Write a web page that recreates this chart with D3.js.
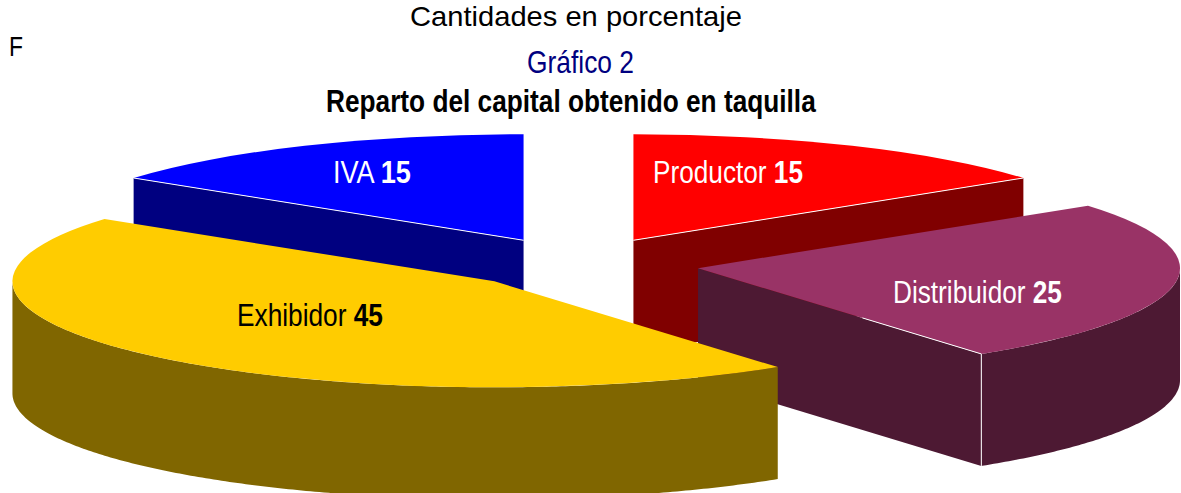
<!DOCTYPE html>
<html>
<head>
<style>
  body{
    margin: 0;
    background: #fff;
  }
  text{
    font-family: 'Liberation Sans', Arial, sans-serif;
  }
</style>
</head>
<body>
  <svg id='svgVis'></svg>

<script src="https://d3js.org/d3.v7.min.js"></script>
<script>

var categories = ["Productor", "Distribuidor", "Exhibidor", "IVA"];
var values = [15, 25, 45, 15];
var topColors = ["#ff0000", "#993366", "#ffcc00", "#0000ff"];
var sideColors = ["#800000", "#4d1933", "#806600", "#000080"];
var labelColors = ["#fff", "#fff", "#000", "#fff"];

var width = 1181, height = 493;

var cx = 578.5, cy = 264,      // centre of the pie before exploding
    rx = 482, ry = 106,        // ellipse of the tilted pie
    depth = 112,
    explode = 121;

var tilt = ry / rx;

var svg = d3.select("#svgVis")
    .attr("width", width)
    .attr("height", height)
    .style("display", "block");

var slices = d3.pie().sort(null).startAngle(0).endAngle(2 * Math.PI)(values);

var nudgeX = [0, 0, 1.5, 0], nudgeY = [0, 0, -1.5, 0];

slices.forEach(function(d, i) {
  var mid = (d.startAngle + d.endAngle) / 2;
  d.name = categories[i];
  d.top = topColors[i];
  d.side = sideColors[i];
  d.ax = cx + explode * Math.sin(mid) + nudgeX[i];
  d.ay = cy - explode * Math.cos(mid) * tilt + nudgeY[i];
  d.edgeStart = [0, 0.58, null, 0][i];   // how much of the cut edge has the white line
});

// point on the rim of a slice
function rim(d, a, f) {
  f = f === undefined ? 1 : f;
  return [d.ax + f * rx * Math.sin(a), d.ay - f * ry * Math.cos(a)];
}

var arc = d3.arc().innerRadius(0).outerRadius(rx);

var wallArea = d3.area()
    .x(function(p) { return p[0]; })
    .y0(function(p) { return p[1]; })
    .y1(function(p) { return p[1] + depth; });

// the cut edge that faces the viewer, if any
function cutAngle(d) {
  if (Math.sin(d.endAngle) > 0.001) return d.endAngle;
  if (Math.sin(d.startAngle) < -0.001) return d.startAngle;
  return null;
}

var order = slices.slice().sort(function(a, b) { return a.ay - b.ay; });

var groups = svg.selectAll("g.slice")
    .data(order)
    .enter().append("g")
    .attr("class", "slice");

// flat wall along the cut edge
groups.each(function(d) {
  var a = cutAngle(d);
  if (a === null) return;
  d3.select(this).append("path")
    .attr("d", wallArea([[d.ax, d.ay], rim(d, a)]))
    .attr("fill", d.side);
});

// curved wall along the front of the rim
groups.each(function(d) {
  var from = Math.max(d.startAngle, Math.PI / 2),
      to = Math.min(d.endAngle, 3 * Math.PI / 2);
  if (from >= to) return;
  var pts = d3.range(from, to, 0.01).concat([to]).map(function(a) { return rim(d, a); });
  d3.select(this).append("path")
    .attr("d", wallArea(pts))
    .attr("fill", d.side);
});

groups.append("path")
    .attr("d", arc)
    .attr("transform", function(d) {
      return "translate(" + d.ax + "," + d.ay + ") scale(1," + tilt + ")";
    })
    .attr("fill", function(d) { return d.top; });

// thin white highlights
groups.each(function(d) {
  var a = cutAngle(d);
  if (a === null || d.edgeStart === null) return;
  var g = d3.select(this), p0 = rim(d, a, d.edgeStart), p1 = rim(d, a);
  g.append("line")
    .attr("x1", p0[0]).attr("y1", p0[1])
    .attr("x2", p1[0]).attr("y2", p1[1])
    .attr("stroke", "#fff")
    .attr("stroke-width", 1);
  if (d.name == "Distribuidor") {
    g.append("line")
      .attr("x1", p1[0]).attr("y1", p1[1])
      .attr("x2", p1[0]).attr("y2", p1[1] + depth)
      .attr("stroke", "#fff")
      .attr("stroke-width", 1);
  }
});

// text is squeezed horizontally in the original, so fit each one to its width
function fitText(x, y, w, size, color, parts) {
  var t = svg.append("text")
    .attr("font-size", size)
    .attr("fill", color);
  parts.forEach(function(p) {
    t.append("tspan")
      .attr("font-weight", p[1] ? "bold" : "normal")
      .text(p[0]);
  });
  var sx = w / t.node().getComputedTextLength();
  t.attr("transform", "translate(" + x + "," + y + ") scale(" + sx + ",1)");
}

fitText(410, 26, 332, 28, "#000", [["Cantidades en porcentaje", false]]);
fitText(9, 56, 14, 28, "#000", [["F", false]]);
fitText(527, 73, 107, 32, "#000080", [["Gráfico 2", false]]);
fitText(326, 112, 490, 32, "#000", [["Reparto del capital obtenido en taquilla", true]]);

var labelPos = [[653, 183, 150], [893, 303, 169], [237, 326, 146], [333, 183, 78]];

slices.forEach(function(d, i) {
  fitText(labelPos[i][0], labelPos[i][1], labelPos[i][2], 32, labelColors[i],
    [[d.name + " ", false], [String(d.value), true]]);
});

</script>
</body>
</html>
